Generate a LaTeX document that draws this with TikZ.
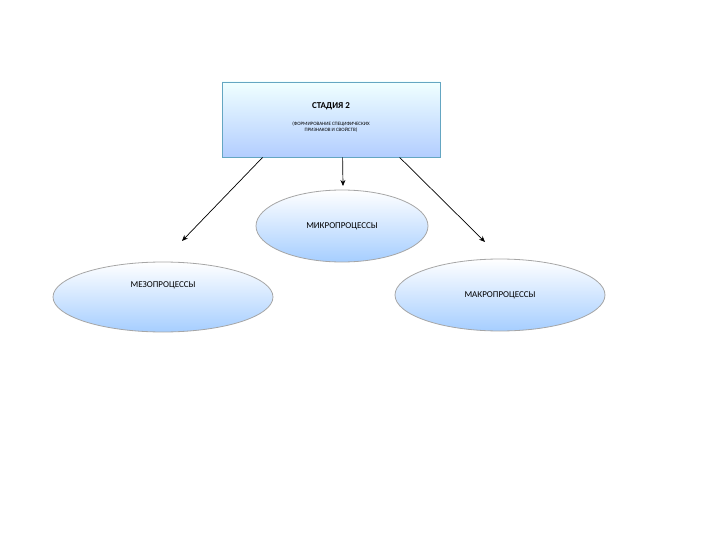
\documentclass[tikz,border=0pt]{standalone}
\usepackage{fontspec}
\setmainfont{Carlito}
\usetikzlibrary{shapes.geometric,arrows.meta}
\begin{document}
\begin{tikzpicture}[x=1pt,y=-1pt,
  blob/.style={ellipse,draw=gray!70,line width=0.8pt,top color=white,bottom color=cyan!45!blue!35,shading angle=0,inner sep=0pt},
  link/.style={-{Stealth[length=6pt,width=5pt]},line width=0.7pt}]
\useasboundingbox (0,0) rectangle (720,540);
\node[draw=cyan!50!gray,line width=0.8pt,top color=cyan!6,bottom color=cyan!35!blue!30,minimum width=218pt,minimum height=75pt,align=center,inner sep=0pt] (box) at (331,119.5) {};
\node[font=\small\bfseries] (t1) at (331,106) {СТАДИЯ 2};
\node[font=\tiny,align=center,inner sep=0pt] (t2) at (331,127) {(ФОРМИРОВАНИЕ СПЕЦИФИЧЕСКИХ\\ ПРИЗНАКОВ И СВОЙСТВ)};
\node[blob,minimum width=172pt,minimum height=72pt] (micro) at (342,226) {};
\node[font=\small] at (342,226) {МИКРОПРОЦЕССЫ};
\node[blob,minimum width=220pt,minimum height=70pt] (mezo) at (163,297) {};
\node[font=\small] at (163,285) {МЕЗОПРОЦЕССЫ};
\node[blob,minimum width=210pt,minimum height=72pt] (makro) at (500,295) {};
\node[font=\small] at (500,295) {МАКРОПРОЦЕССЫ};
\coordinate (e1) at (182,241);
\coordinate (e2) at (343,186);
\coordinate (e3) at (485,242);
\draw[link] (box.south west)++(41,0) -- (e1);
\draw[link] (box.south west)++(121,0) -- (e2);
\draw[link] (box.south west)++(178,0) -- (e3);
\end{tikzpicture}
\end{document}
